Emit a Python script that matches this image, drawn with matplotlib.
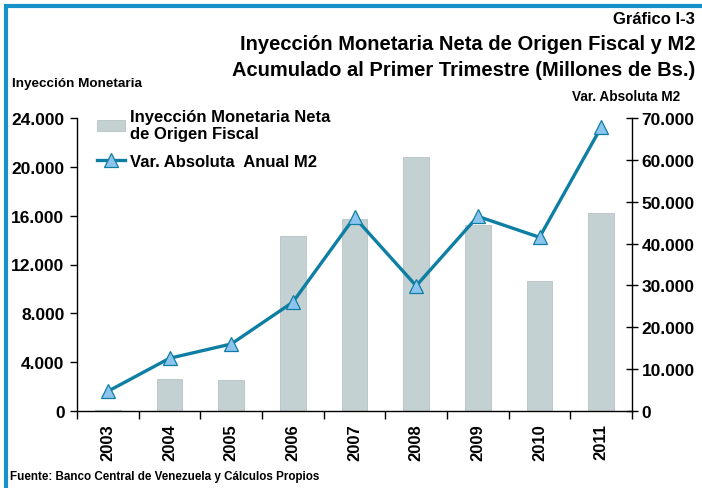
import matplotlib
matplotlib.use("Agg")
import matplotlib.pyplot as plt
from matplotlib.lines import Line2D
from matplotlib.ticker import FuncFormatter

years = ["2003", "2004", "2005", "2006", "2007", "2008", "2009", "2010", "2011"]
inyeccion = [100, 2620, 2540, 14340, 15730, 20780, 15240, 10620, 16190]
var_m2 = [4700, 12600, 16000, 26000, 46300, 29900, 46500, 41500, 67800]

left_ticks = [0, 4000, 8000, 12000, 16000, 20000, 24000]
right_ticks = [0, 10000, 20000, 30000, 40000, 50000, 60000, 70000]

plt.rcParams['font.family'] = ['Liberation Sans', 'DejaVu Sans']
plt.rcParams['font.weight'] = 'bold'

W, H = 702, 489
fig = plt.figure(figsize=(W / 100, H / 100), dpi=100)

ax_l, ax_r, ax_t, ax_b = 77, 632, 119, 412
ax = fig.add_axes([ax_l / W, 1 - ax_b / H, (ax_r - ax_l) / W, (ax_b - ax_t) / H])
ax2 = ax.twinx()

x = list(range(len(years)))
bar_color = "#c3d1d2"
line_color = "#0f7ea3"
marker_color = "#8cc4ee"

bars = ax.bar(x, inyeccion, width=0.42, color=bar_color, edgecolor="#b5c3c4", linewidth=0.6, zorder=2)
ln, = ax2.plot(x, var_m2, color=line_color, linewidth=2.4, marker="^", markersize=10,
               markerfacecolor=marker_color, markeredgecolor=line_color, markeredgewidth=0.9, zorder=3)

ax.set_xlim(-0.5, len(years) - 0.5)
ax.set_ylim(0, 24000)
ax2.set_ylim(0, 70000)
ax.set_yticks(left_ticks)
ax2.set_yticks(right_ticks)
fmt = FuncFormatter(lambda v, p: f"{int(v):,}".replace(",", "."))
ax.yaxis.set_major_formatter(fmt)
ax2.yaxis.set_major_formatter(fmt)

ax.set_xticks(x)
ax.set_xticklabels(years, rotation=90, fontsize=12, fontweight="bold")
ax.tick_params(axis="x", length=0, pad=9)
ax.set_xticks([i + 0.5 for i in range(-1, len(years))], minor=True)
ax.tick_params(axis="x", which="minor", length=6, width=1, direction="out")
ax.tick_params(axis="y", labelsize=12.5, length=5, width=1, direction="out", pad=4)
ax2.tick_params(axis="y", labelsize=12.5, length=8, width=1, direction="inout", pad=3)
for lab in ax.get_yticklabels() + ax2.get_yticklabels():
    lab.set_fontweight("bold")

for s in ["top"]:
    ax.spines[s].set_visible(False)
    ax2.spines[s].set_visible(False)
ax.spines["right"].set_visible(False)
for a in (ax, ax2):
    for sp in a.spines.values():
        sp.set_linewidth(1)
        sp.set_color("black")
ax2.spines["left"].set_visible(False)
ax2.spines["bottom"].set_visible(False)

# legend
handles = [bars, ln]
labels = ["Inyección Monetaria Neta\nde Origen Fiscal", "Var. Absoluta  Anual M2"]
leg = fig.legend(handles, labels, loc="upper left", bbox_to_anchor=(97 / W, 1 - 110 / H),
                 frameon=False, fontsize=12, handlelength=1.7, handletextpad=0.3,
                 labelspacing=0.75, borderaxespad=0, borderpad=0)
for t in leg.get_texts():
    t.set_fontweight("bold")

# titles
fig.text(695 / W, 1 - 20 / H, "Gráfico I-3", ha="right", va="center", fontsize=12, fontweight="bold")
fig.text(695 / W, 1 - 45 / H, "Inyección Monetaria Neta de Origen Fiscal y M2", ha="right", va="center",
         fontsize=14.5, fontweight="bold")
fig.text(695 / W, 1 - 70 / H, "Acumulado al Primer Trimestre (Millones de Bs.)", ha="right", va="center",
         fontsize=14.5, fontweight="bold")
fig.text(12 / W, 1 - 84 / H, "Inyección Monetaria", ha="left", va="center", fontsize=9.7, fontweight="bold")
fig.text(680 / W, 1 - 97 / H, "Var. Absoluta M2", ha="right", va="center", fontsize=9.8, fontweight="bold")
fig.text(10 / W, 1 - 477 / H, "Fuente: Banco Central de Venezuela y Cálculos Propios", ha="left", va="center",
         fontsize=8.4, fontweight="bold")

# border
border_color = "#1593c8"
fig.add_artist(Line2D([5.5 / W, 5.5 / W], [0, 1 - 6.5 / H], color=border_color, linewidth=3,
                      transform=fig.transFigure, solid_capstyle="butt"))
fig.add_artist(Line2D([4 / W, 1], [1 - 6.5 / H, 1 - 6.5 / H], color=border_color, linewidth=3,
                      transform=fig.transFigure, solid_capstyle="butt"))

fig.savefig("out.png", dpi=100)
